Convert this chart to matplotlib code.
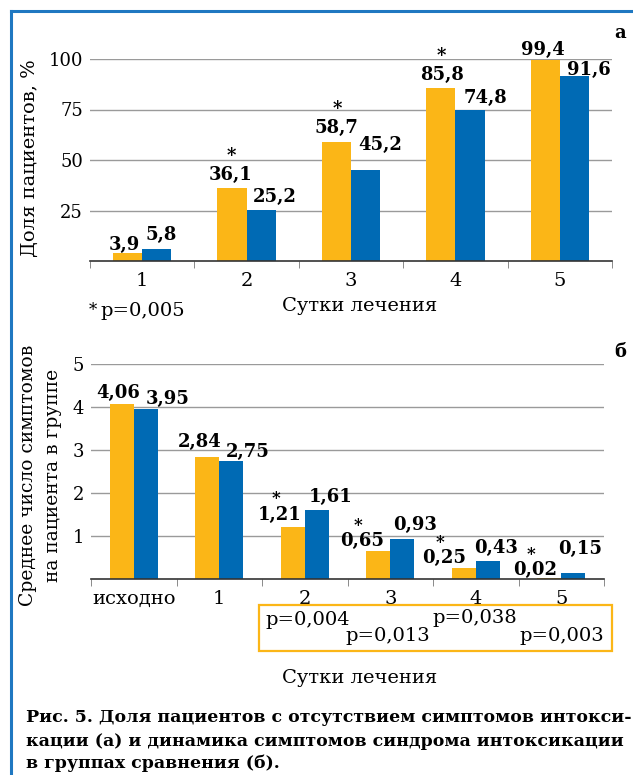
import numpy as np
import matplotlib.pyplot as plt
from matplotlib.lines import Line2D
from matplotlib.patches import Rectangle

plt.rcParams['font.family'] = ['DejaVu Serif']

# chart a data
days_a = ["1", "2", "3", "4", "5"]
main_a = [3.9, 36.1, 58.7, 85.8, 99.4]
ctrl_a = [5.8, 25.2, 45.2, 74.8, 91.6]
star_a = [False, True, True, True, False]

# chart b data
days_b = ["исходно", "1", "2", "3", "4", "5"]
main_b = [4.06, 2.84, 1.21, 0.65, 0.25, 0.02]
ctrl_b = [3.95, 2.75, 1.61, 0.93, 0.43, 0.15]
star_b = [False, False, True, True, True, True]
p_texts = ["p=0,004", "p=0,013", "p=0,038", "p=0,003"]

YEL = "#FBB617"
BLU = "#006AB4"
W, H = 633, 775


def fx(px):
    return px / W


def fy(py):
    return 1 - py / H


def fmt(v, nd):
    return f"{v:.{nd}f}".replace(".", ",")


fig = plt.figure(figsize=(W / 100, H / 100), dpi=100)

# blue frame
fig.add_artist(Line2D([fx(11), 1], [fy(11), fy(11)], color="#1F78C1", lw=2.2))
fig.add_artist(Line2D([fx(11), fx(11)], [fy(11), 0], color="#1F78C1", lw=2.2))


def style_axes(ax, n, ymax, step):
    ax.set_xlim(-0.5, n - 0.5)
    ax.set_ylim(0, ymax)
    ax.set_yticks(np.arange(step, ymax + step / 2, step))
    ax.grid(axis="y", color="#9A9A9A", lw=1)
    ax.set_axisbelow(True)
    for s in ["left", "right", "top"]:
        ax.spines[s].set_visible(False)
    ax.spines["bottom"].set_color("#333333")
    ax.spines["bottom"].set_linewidth(1.2)
    ax.set_xticks(np.arange(n))
    ax.set_xticks(np.arange(n + 1) - 0.5, minor=True)
    ax.tick_params(axis="x", which="major", length=0, pad=8, labelsize=14)
    ax.tick_params(axis="x", which="minor", length=5, color="#777777")
    ax.tick_params(axis="y", length=0, pad=5, labelsize=13)


def px_off(ax, x, y, dx, dy, txt, **kw):
    # offsets given in pixels, converted to points
    ax.annotate(txt, (x, y), xytext=(dx * 0.72, dy * 0.72),
                textcoords="offset points", ha="center", va="center",
                annotation_clip=False, **kw)


# ---------- chart a ----------
axa = fig.add_axes([fx(90), fy(261), fx(612) - fx(90), fy(59) - fy(261)])
bw = 0.28
xa = np.arange(len(days_a))
axa.bar(xa - bw / 2, main_a, bw, color=YEL)
axa.bar(xa + bw / 2, ctrl_a, bw, color=BLU)
style_axes(axa, len(days_a), 100, 25)
axa.set_xticklabels(days_a)

ya_dx = [-3.5, -1, 0.5, 1, -2.5]
ya_dy = [8, 13, 14, 13, 10]
ba_dx = [4.5, 14, 14.5, 15, 14.5]
ba_dy = [14, 13, 25, 12, 6]
for i in range(len(days_a)):
    px_off(axa, xa[i] - bw / 2, main_a[i], ya_dx[i], ya_dy[i], fmt(main_a[i], 1),
           fontsize=13, fontweight="bold")
    px_off(axa, xa[i] + bw / 2, ctrl_a[i], ba_dx[i], ba_dy[i], fmt(ctrl_a[i], 1),
           fontsize=13, fontweight="bold")
    if star_a[i]:
        px_off(axa, xa[i] - bw / 2, main_a[i], ya_dx[i], ya_dy[i] + 19, "*",
               fontsize=13, fontweight="bold")

fig.text(fx(30), fy(158), "Доля пациентов, %", rotation=90, ha="center", va="center",
         fontsize=14)
fig.text(fx(360), fy(306), "Сутки лечения", ha="center", va="center", fontsize=14)
fig.text(fx(89), fy(310), "*", ha="left", va="center", fontsize=12)
fig.text(fx(100), fy(311), "p=0,005", ha="left", va="center", fontsize=14)
fig.text(fx(620), fy(33), "а", ha="center", va="center", fontsize=13, fontweight="bold")

# ---------- chart b ----------
axb = fig.add_axes([fx(91), fy(579), fx(604) - fx(91), fy(364) - fy(579)])
xb = np.arange(len(days_b))
axb.bar(xb - bw / 2, main_b, bw, color=YEL)
axb.bar(xb + bw / 2, ctrl_b, bw, color=BLU)
style_axes(axb, len(days_b), 5, 1)
axb.set_xticklabels(days_b)

yb_dx = [-4, -8, -13, -16, -20, -14]
yb_dy = [11, 15, 12, 10, 10, 8]
bb_dx = [22, 17, 14, 13, 8, 7]
bb_dy = [10, 9, 13, 14, 13, 24]
for i in range(len(days_b)):
    px_off(axb, xb[i] - bw / 2, main_b[i], yb_dx[i], yb_dy[i], fmt(main_b[i], 2),
           fontsize=13, fontweight="bold")
    px_off(axb, xb[i] + bw / 2, ctrl_b[i], bb_dx[i], bb_dy[i], fmt(ctrl_b[i], 2),
           fontsize=13, fontweight="bold")
    if star_b[i]:
        px_off(axb, xb[i] - bw / 2, main_b[i], yb_dx[i] - 4, yb_dy[i] + 16, "*",
               fontsize=12, fontweight="bold")

fig.text(fx(28), fy(475), "Среднее число симптомов", rotation=90, ha="center",
         va="center", fontsize=13.5)
fig.text(fx(53), fy(475), "на пациента в группе", rotation=90, ha="center",
         va="center", fontsize=13.5)
fig.text(fx(620), fy(352), "б", ha="center", va="center", fontsize=13, fontweight="bold")

# p-value box
fig.add_artist(Rectangle((fx(259), fy(651)), fx(612) - fx(259), fy(605) - fy(651),
                         transform=fig.transFigure, fill=False, edgecolor=YEL, lw=1.6))
p_x = [265, 345, 432, 519]
p_y = [620, 636, 618, 636]
for t, px, py in zip(p_texts, p_x, p_y):
    fig.text(fx(px), fy(py), t, ha="left", va="center", fontsize=14)

fig.text(fx(360), fy(678), "Сутки лечения", ha="center", va="center", fontsize=14)

# caption
caption = ["Рис. 5. Доля пациентов с отсутствием симптомов интокси-",
           "кации (а) и динамика симптомов синдрома интоксикации",
           "в группах сравнения (б)."]
for line, py in zip(caption, [717, 741, 763]):
    fig.text(fx(26), fy(py), line, ha="left", va="center", fontsize=12.5,
             fontweight="bold")

fig.savefig("out.png", dpi=100)
